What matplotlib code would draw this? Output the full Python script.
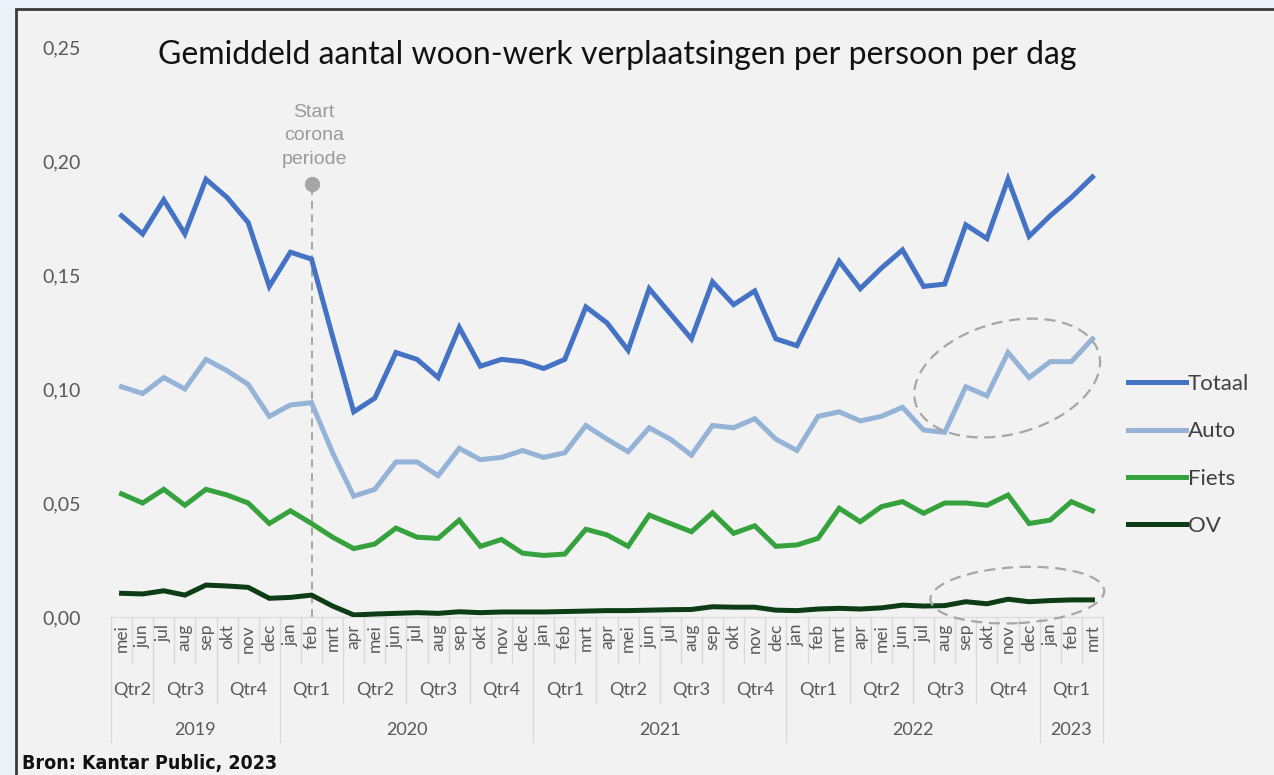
import matplotlib
matplotlib.use("Agg")
from matplotlib import pyplot as plt
from matplotlib.patches import Ellipse, Rectangle
from matplotlib.transforms import IdentityTransform, blended_transform_factory

plt.rcParams['font.family'] = ['Lato', 'DejaVu Sans']

# maanden en jaren op de x-as
maand_namen = ['jan', 'feb', 'mrt', 'apr', 'mei', 'jun', 'jul', 'aug', 'sep', 'okt', 'nov', 'dec']
maanden = maand_namen[4:] + maand_namen * 3 + maand_namen[:3]
jaren = [2019] * 8 + [2020] * 12 + [2021] * 12 + [2022] * 12 + [2023] * 3

totaal = [0.176, 0.168, 0.183, 0.168, 0.192, 0.184, 0.173, 0.145,
          0.160, 0.157, 0.123, 0.090, 0.096, 0.116, 0.113, 0.105, 0.127, 0.110, 0.113, 0.112,
          0.109, 0.113, 0.136, 0.129, 0.117, 0.144, 0.133, 0.122, 0.147, 0.137, 0.143, 0.122,
          0.119, 0.138, 0.156, 0.144, 0.153, 0.161, 0.145, 0.146, 0.172, 0.166, 0.192, 0.167,
          0.176, 0.184, 0.193]
auto = [0.101, 0.098, 0.105, 0.100, 0.113, 0.108, 0.102, 0.088,
        0.093, 0.094, 0.072, 0.053, 0.056, 0.068, 0.068, 0.062, 0.074, 0.069, 0.070, 0.073,
        0.070, 0.072, 0.084, 0.078, 0.0725, 0.083, 0.078, 0.071, 0.084, 0.083, 0.087, 0.078,
        0.073, 0.088, 0.090, 0.086, 0.088, 0.092, 0.082, 0.081, 0.101, 0.097, 0.116, 0.105,
        0.112, 0.112, 0.122]
fiets = [0.054, 0.050, 0.056, 0.049, 0.056, 0.0535, 0.050, 0.041,
         0.0466, 0.041, 0.035, 0.030, 0.032, 0.039, 0.035, 0.0345, 0.0425, 0.031, 0.034, 0.028,
         0.027, 0.0276, 0.0385, 0.036, 0.031, 0.0447, 0.041, 0.0374, 0.0457, 0.0367, 0.040, 0.031,
         0.0316, 0.0345, 0.0477, 0.0418, 0.0484, 0.0506, 0.0455, 0.050, 0.050, 0.049, 0.0535, 0.041,
         0.0425, 0.0506, 0.0466]
ov = [0.0104, 0.0101, 0.0115, 0.0096, 0.014, 0.0136, 0.013, 0.0082,
      0.0086, 0.0096, 0.0048, 0.0009, 0.0013, 0.0016, 0.0019, 0.0016, 0.0023, 0.0019, 0.0022, 0.0022,
      0.0022, 0.0024, 0.0026, 0.0028, 0.0028, 0.003, 0.0032, 0.0033, 0.0045, 0.0043, 0.0043, 0.003,
      0.0028, 0.0035, 0.0038, 0.0035, 0.004, 0.0052, 0.0048, 0.005, 0.0067, 0.0058, 0.0078, 0.0067,
      0.0072, 0.0075, 0.0075]

reeksen = ['Totaal', 'Auto', 'Fiets', 'OV']
kleuren = ['#4472c4', '#95b3d7', '#36a23d', '#0d3d14']
yticks = [0.0, 0.05, 0.10, 0.15, 0.20, 0.25]
corona_start = 9  # feb 2020

W, H = 1274, 775
fig = plt.figure(figsize=(W / 100, H / 100), dpi=100, facecolor='#eaf1f8')
fig.add_artist(Rectangle((16 / W, -0.05), 1.1, 1 - 9 / H + 0.05, transform=fig.transFigure,
                         facecolor='#f2f2f2', edgecolor='#3a3a3a', lw=2, zorder=0))

ax = fig.add_axes([111 / W, 1 - 617 / H, 992 / W, 570 / H])
ax.set_facecolor('none')

x = list(range(len(maanden)))
for naam, data, kleur in zip(reeksen, [totaal, auto, fiets, ov], kleuren):
    ax.plot(x, data, color=kleur, lw=3.6, label=naam, solid_joinstyle='miter', zorder=3)

ax.set_xlim(-0.5, len(maanden) - 0.5)
ax.set_ylim(0, 0.25)
ax.set_yticks(yticks)
ax.set_yticklabels([f"{v:.2f}".replace('.', ',') for v in yticks], fontsize=14, color='#595959')
ax.tick_params(axis='y', length=0, pad=22)
ax.set_xticks([])
for s in ['top', 'right', 'left']:
    ax.spines[s].set_visible(False)
ax.spines['bottom'].set_color('#d9d9d9')

# categorie-as met drie niveaus
tr = blended_transform_factory(ax.transData, ax.transAxes)
y_m, y_q, y_j = -46 / 570, -86 / 570, -125 / 570
kwartalen = [maand_namen.index(m) // 3 + 1 for m in maanden]
for i, m in enumerate(maanden):
    ax.text(i, -7 / 570, m, transform=tr, rotation=90, ha='center', va='top',
            fontsize=12.5, color='#595959')
for i in range(len(maanden) + 1):
    if i == 0 or i == len(maanden) or jaren[i] != jaren[i - 1]:
        y_end = y_j
    elif kwartalen[i] != kwartalen[i - 1]:
        y_end = y_q
    else:
        y_end = y_m
    ax.plot([i - 0.5, i - 0.5], [0, y_end], transform=tr, color='#d9d9d9', lw=1, clip_on=False)

# kwartaal- en jaarlabels
groepen_q, groepen_j = [], []
for i in range(len(maanden)):
    key_q = (jaren[i], kwartalen[i])
    if not groepen_q or groepen_q[-1][0] != key_q:
        groepen_q.append([key_q, i, i])
    groepen_q[-1][2] = i
    if not groepen_j or groepen_j[-1][0] != jaren[i]:
        groepen_j.append([jaren[i], i, i])
    groepen_j[-1][2] = i
for (j, q), a, b in groepen_q:
    ax.text((a + b) / 2, -73 / 570, f"Qtr{q}", transform=tr, ha='center', va='center',
            fontsize=13, color='#595959')
for j, a, b in groepen_j:
    ax.text((a + b) / 2, -113 / 570, str(j), transform=tr, ha='center', va='center',
            fontsize=13, color='#595959')

# start corona periode
ax.plot([corona_start, corona_start], [0, 0.19], color='#a6a6a6', lw=1.4, ls=(0, (4, 3)), zorder=2)
ax.plot([corona_start], [0.19], 'o', color='#a6a6a6', ms=10, zorder=2, clip_on=False)
ax.text(corona_start + 0.12, 0.197, "Start\ncorona\nperiode", ha='center', va='bottom', fontsize=14,
        color='#9a9a9a', family=['Liberation Sans', 'DejaVu Sans'], linespacing=1.5)

fig.text(617 / W, 1 - 55 / H, "Gemiddeld aantal woon-werk verplaatsingen per persoon per dag",
         fontsize=23, color='#111111', ha='center', va='center')

fig.legend(loc='upper left', bbox_to_anchor=(1108 / W, 1 - 354 / H), frameon=False,
           fontsize=16, handlelength=2.6, handletextpad=0.1, labelspacing=1.23,
           labelcolor='#404040')

# ellipsen rond de laatste maanden
for (xc, yc), w, h, hoek in [((41.96, 0.1048), 190, 112, 15), ((42.44, 0.0096), 174, 56, 3)]:
    cx, cy = ax.transData.transform((xc, yc))
    fig.add_artist(Ellipse((cx, cy), w, h, angle=hoek, transform=IdentityTransform(), fill=False,
                           ec='#a6a6a6', lw=1.6, ls=(0, (5, 3)), zorder=5))

fig.text(22 / W, 2 / H, "Bron: Kantar Public, 2023", fontsize=14, fontweight='bold',
         fontstretch='condensed', family=['DejaVu Sans'], color='#111111', ha='left', va='bottom')

fig.savefig("out.png", dpi=100, facecolor=fig.get_facecolor())
